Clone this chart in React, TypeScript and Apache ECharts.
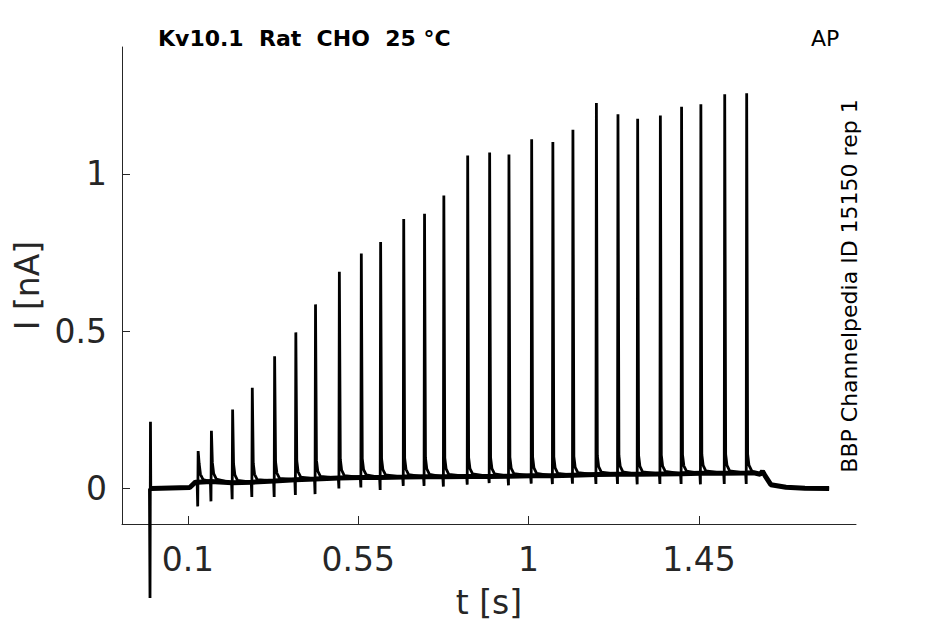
import React, { useEffect, useRef } from "react";
import * as echarts from "echarts";

// Spike train
const spikeTimes = [0.0, 0.126, 0.161, 0.217, 0.269, 0.328, 0.384, 0.436, 0.499, 0.557, 0.608, 0.669, 0.724, 0.775, 0.838, 0.896, 0.947, 1.007, 1.063, 1.116, 1.178, 1.235, 1.287, 1.347, 1.403, 1.454, 1.517, 1.575];
const spikePeaks = [0.212, 0.119, 0.183, 0.251, 0.32, 0.42, 0.496, 0.585, 0.689, 0.747, 0.783, 0.856, 0.873, 0.931, 1.058, 1.068, 1.061, 1.11, 1.101, 1.14, 1.225, 1.189, 1.175, 1.185, 1.213, 1.221, 1.253, 1.256];
const spikeDips = [-0.348, -0.057, -0.041, -0.034, -0.027, -0.027, -0.021, -0.018, 0.0, 0.003, -0.005, 0.008, 0.008, 0.006, 0.012, 0.017, 0.01, 0.015, 0.014, 0.015, 0.014, 0.014, 0.013, 0.014, 0.014, 0.013, 0.014, 0.014];
const baseLevels = [0.0, 0.02, 0.022, 0.018, 0.02, 0.024, 0.028, 0.03, 0.033, 0.035, 0.035, 0.036, 0.037, 0.037, 0.038, 0.038, 0.039, 0.04, 0.04, 0.042, 0.044, 0.045, 0.045, 0.046, 0.047, 0.048, 0.048, 0.049];
// decay after each spike: [seconds after peak, nA above baseline]
const tailShape = [[0.0025, 0.06], [0.006, 0.025], [0.013, 0.008]];
// baseline before the first train spike and after the train
const onsetPoints = [[0.004, 0.0], [0.105, 0.003], [0.12, 0.02]];
const offsetPoints = [[1.595, 0.05], [1.612, 0.045], [1.618, 0.055], [1.625, 0.04], [1.64, 0.012], [1.68, 0.004], [1.73, 0.001], [1.794, 0.0]];

const xTicks = [0.1, 0.55, 1, 1.45];
const yTicks = [0, 0.5, 1];

function buildTrace(): number[][] {
  const pts: number[][] = [];
  spikeTimes.forEach((t, i) => {
    const b = baseLevels[i];
    pts.push([t - 0.0015, b]);
    pts.push([t, spikeDips[i]]);
    pts.push([t + 0.0012, spikePeaks[i]]);
    if (i === 0) {
      pts.push([t + 0.002, b]);
      onsetPoints.forEach((p) => pts.push(p));
    } else {
      tailShape.forEach(([dt, v]) => pts.push([t + 0.0012 + dt, b + v]));
    }
  });
  offsetPoints.forEach((p) => pts.push(p));
  return pts;
}

function buildBand(): number[][] {
  const pts: number[][] = [];
  spikeTimes.forEach((t, i) => {
    pts.push([t, baseLevels[i]]);
    if (i === 0) onsetPoints.forEach((p) => pts.push(p));
  });
  offsetPoints.forEach((p) => pts.push(p));
  return pts;
}

const FONT = "DejaVu Sans";
const AXIS_COLOR = "#262626";

export default function App() {
  const ref = useRef<HTMLDivElement>(null);
  useEffect(() => {
    if (!ref.current) return;
    const chart = echarts.init(ref.current, undefined, { renderer: "svg" });
    chart.setOption({
      animation: false,
      backgroundColor: "#ffffff",
      grid: { left: 122, right: 89, top: 47, bottom: 99, containLabel: false },
      xAxis: {
        type: "value",
        min: -0.074,
        max: 1.865,
        name: "t [s]",
        nameLocation: "middle",
        nameGap: 62,
        nameTextStyle: { fontFamily: FONT, fontSize: 33, color: AXIS_COLOR },
        axisLine: { show: true, onZero: false, lineStyle: { color: AXIS_COLOR, width: 1 } },
        axisTick: { show: true, inside: true, length: 8, customValues: xTicks, lineStyle: { color: AXIS_COLOR } },
        axisLabel: { customValues: xTicks, margin: 19, fontFamily: FONT, fontSize: 33, color: AXIS_COLOR },
        splitLine: { show: false },
      },
      yAxis: {
        type: "value",
        min: -0.113,
        max: 1.403,
        name: "I [nA]",
        nameLocation: "middle",
        nameGap: 78,
        nameTextStyle: { fontFamily: FONT, fontSize: 33, color: AXIS_COLOR },
        axisLine: { show: true, onZero: false, lineStyle: { color: AXIS_COLOR, width: 1 } },
        axisTick: { show: true, inside: true, length: 8, customValues: yTicks, lineStyle: { color: AXIS_COLOR } },
        axisLabel: { customValues: yTicks, margin: 15, fontFamily: FONT, fontSize: 33, color: AXIS_COLOR },
        splitLine: { show: false },
      },
      graphic: [
        {
          type: "text",
          left: 158,
          top: 27,
          style: { text: "Kv10.1  Rat  CHO  25 °C", font: `bold 22px '${FONT}'`, fill: "#000" },
        },
        {
          type: "text",
          left: 811,
          top: 27,
          style: { text: "AP", font: `22px '${FONT}'`, fill: "#000" },
        },
        {
          type: "text",
          x: 849,
          y: 286,
          rotation: Math.PI / 2,
          style: {
            text: "BBP Channelpedia ID 15150 rep 1",
            font: `22px '${FONT}'`,
            fill: "#000",
            align: "center",
            verticalAlign: "middle",
          },
        },
      ],
      series: [
        {
          type: "line",
          name: "band",
          data: buildBand(),
          showSymbol: false,
          clip: false,
          silent: true,
          lineStyle: { color: "#000", width: 5 },
        },
        {
          type: "line",
          name: "I",
          data: buildTrace(),
          showSymbol: false,
          clip: false,
          lineStyle: { color: "#000", width: 2.8 },
        },
      ],
    });
    return () => chart.dispose();
  }, []);
  return (
    <div
      ref={ref}
      style={{ position: "fixed", left: 0, top: 0, width: 945, height: 624 }}
    />
  );
}
